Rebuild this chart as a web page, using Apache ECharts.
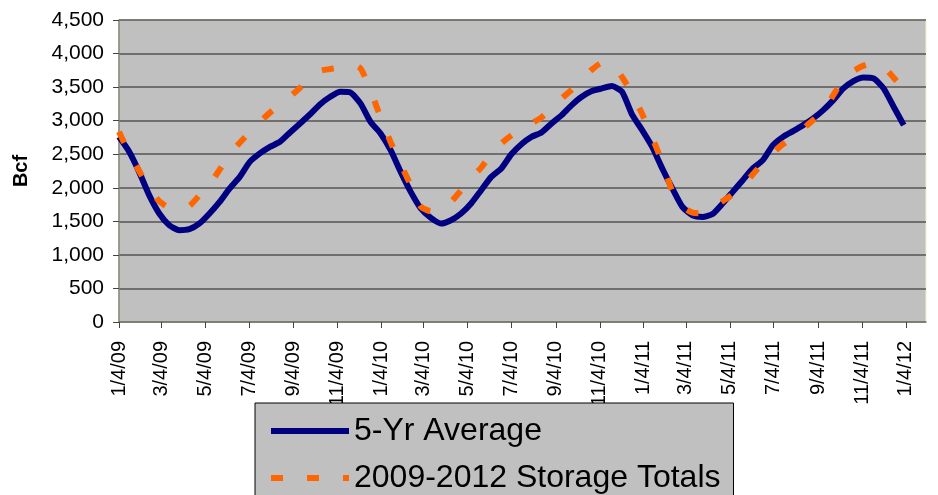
<!doctype html>
<html>
<head>
    <meta charset="utf-8">
    <title>Natural gas storage</title>
    <style>
        html, body { margin: 0; padding: 0; background: #fff; }
        #chart { width: 938px; height: 495px; }
    </style>
</head>
<body>
<div id="chart"></div>
<script src="https://cdn.jsdelivr.net/npm/echarts@6/dist/echarts.min.js"></script>
<script>
    // axis tick labels (every two months)
    var tickLabels = ['1/4/09', '3/4/09', '5/4/09', '7/4/09', '9/4/09', '11/4/09',
        '1/4/10', '3/4/10', '5/4/10', '7/4/10', '9/4/10', '11/4/10',
        '1/4/11', '3/4/11', '5/4/11', '7/4/11', '9/4/11', '11/4/11', '1/4/12'];

    // samples every 14 days from 1/4/09
    var startDate = '1/4/09';
    var stepDays = 14;

    // 5-Yr Average, Bcf
    var avg5yr = [2759, 2540, 2237, 1890, 1617, 1442, 1368, 1383, 1468, 1617,
        1790, 1990, 2163, 2386, 2512, 2610, 2685, 2825, 2959, 3095,
        3245, 3356, 3430, 3420, 3257, 2983, 2810, 2561, 2237, 1939,
        1691, 1551, 1468, 1517, 1617, 1766, 1964, 2163, 2288, 2500,
        2650, 2759, 2825, 2959, 3083, 3232, 3356, 3441, 3481, 3515,
        3430, 3090, 2859, 2610, 2288, 1990, 1715, 1591, 1566, 1610,
        1766, 1939, 2113, 2288, 2412, 2635, 2759, 2844, 2934, 3034,
        3157, 3306, 3481, 3590, 3645, 3630, 3481, 3207, 2934];

    // 2009-2012 Storage Totals, Bcf
    var storage = [2834, 2520, 2250, 2000, 1800, 1700, 1690, 1730, 1890, 2045,
        2270, 2500, 2670, 2830, 2980, 3120, 3240, 3360, 3490, 3620,
        3740, 3770, 3800, 3850, 3780, 3450, 3050, 2680, 2350, 2040,
        1720, 1650, 1680, 1790, 1960, 2140, 2300, 2500, 2660, 2780,
        2880, 2960, 3050, 3180, 3330, 3460, 3610, 3760, 3860, 3840,
        3650, 3400, 3100, 2750, 2380, 1950, 1720, 1630, 1620, 1700,
        1800, 1900, 2020, 2200, 2370, 2520, 2650, 2760, 2880, 3010,
        3140, 3380, 3620, 3740, 3820, 3860, 3800, 3640, 3470];

    var DAY = 86400000;
    function parseDate(s) {
        var p = s.split('/');
        return Date.UTC(2000 + (+p[2]), +p[0] - 1, +p[1]);
    }
    var t0 = parseDate(startDate);
    // day offsets of the ticks
    var tickDays = tickLabels.map(function (s) { return Math.round((parseDate(s) - t0) / DAY); });
    var labelByDay = {};
    tickDays.forEach(function (d, i) { labelByDay[d] = tickLabels[i]; });

    function pairs(vals) {
        return vals.map(function (v, i) { return [i * stepDays, v]; });
    }

    var font = "'Liberation Sans', Arial, sans-serif";
    var myChart = echarts.init(document.getElementById('chart'));
    var option = {
        backgroundColor: '#ffffff',
        animation: false,
        grid: {
            left: 119, right: 12, top: 20, bottom: 173,
            show: true,
            backgroundColor: '#C0C0C0',
            borderColor: '#f2f2c8',
            borderWidth: 1
        },
        legend: {
            orient: 'vertical',
            left: 255, top: 403,
            width: 480, height: 200,
            backgroundColor: '#C0C0C0',
            borderColor: '#000',
            borderWidth: 1,
            borderRadius: 0,
            padding: [12, 13, 30, 13],
            itemWidth: 78, itemHeight: 30, itemGap: 15,
            selectedMode: false,
            textStyle: { fontSize: 32, color: '#000', fontFamily: font },
            data: [
                { name: '5-Yr Average', lineStyle: { width: 6 }, itemStyle: { opacity: 0 } },
                { name: '2009-2012 Storage Totals', lineStyle: { width: 6, type: [12, 24] }, itemStyle: { opacity: 0 } }
            ]
        },
        xAxis: {
            type: 'value',
            min: 0,
            max: 1123,
            axisLine: { show: true, lineStyle: { color: '#808070', width: 1.5 } },
            axisTick: { show: true, length: 6, customValues: tickDays, lineStyle: { color: '#444' } },
            splitLine: { show: false },
            axisLabel: {
                customValues: tickDays,
                rotate: 90,
                margin: 19,
                fontSize: 20,
                color: '#000',
                fontFamily: font,
                formatter: function (v) { return labelByDay[v] || ''; }
            }
        },
        yAxis: {
            type: 'value',
            min: 0, max: 4500, interval: 500,
            name: 'Bcf',
            nameLocation: 'middle',
            nameGap: 88,
            nameTextStyle: { fontSize: 20, fontWeight: 'bold', color: '#000', fontFamily: font },
            axisLine: { show: true, lineStyle: { color: '#808070', width: 1.5 } },
            axisTick: { show: true, length: 6, lineStyle: { color: '#444' } },
            splitLine: { show: true, lineStyle: { color: '#555', width: 1.5 } },
            axisLabel: {
                margin: 15,
                fontSize: 21,
                color: '#000',
                fontFamily: font,
                formatter: function (v) { return v.toLocaleString('en-US'); }
            }
        },
        series: [
            {
                name: '5-Yr Average',
                type: 'line',
                data: pairs(avg5yr),
                symbol: 'none',
                smooth: 0.2,
                lineStyle: { color: '#000080', width: 6 },
                itemStyle: { color: '#000080' }
            },
            {
                name: '2009-2012 Storage Totals',
                type: 'line',
                data: pairs(storage),
                symbol: 'none',
                smooth: 0.2,
                lineStyle: { color: '#FF6600', width: 6, type: [12, 26], cap: 'butt' },
                itemStyle: { color: '#FF6600' }
            }
        ]
    };
    myChart.setOption(option);
</script>
</body>
</html>
